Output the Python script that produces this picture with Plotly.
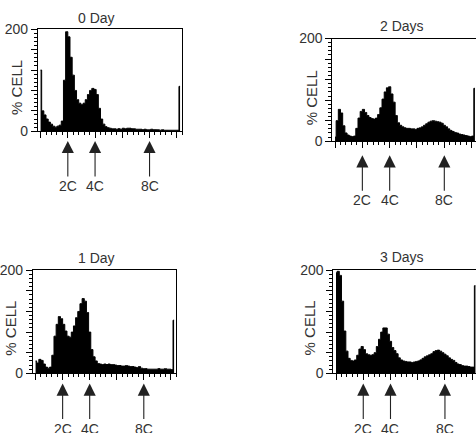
import plotly.graph_objects as go

W, H = 476, 433

# channel bins (DNA content, arbitrary units)
channels = list(range(0, 257, 4))

day0 = [120, 40, 32, 24, 18, 14, 10, 8, 10, 12,
        20, 100, 195, 185, 145, 110, 80, 62, 55, 52,
        55, 62, 72, 80, 84, 82, 72, 45, 24, 14,
        9, 7, 6, 5, 5, 4, 5, 4, 6, 5,
        6, 6, 5, 5, 4, 4, 4, 3, 4, 3,
        3, 4, 3, 3, 3, 2, 3, 2, 2, 2,
        2, 2, 2, 2, 88]

day1 = [24, 20, 27, 25, 18, 12, 10, 12, 35, 72,
        95, 110, 106, 95, 82, 72, 70, 80, 92, 108,
        120, 135, 145, 140, 118, 80, 46, 32, 24, 19,
        18, 17, 18, 17, 18, 17, 17, 16, 15, 15,
        14, 14, 15, 14, 13, 13, 12, 11, 13, 10,
        9, 9, 8, 8, 8, 8, 8, 9, 8, 8,
        9, 8, 8, 7, 103]

day2 = [8, 40, 62, 55, 30, 16, 12, 10, 9, 10,
        25, 45, 58, 62, 56, 50, 46, 44, 43, 45,
        52, 65, 82, 96, 104, 106, 92, 76, 50, 36,
        31, 28, 26, 25, 25, 24, 24, 23, 25, 26,
        28, 31, 34, 37, 39, 40, 39, 38, 37, 35,
        31, 28, 24, 21, 19, 17, 16, 14, 13, 12,
        11, 10, 9, 10, 103]

day3 = [195, 198, 190, 140, 82, 43, 29, 25, 24, 26,
        35, 47, 52, 46, 38, 36, 35, 36, 40, 52,
        66, 80, 88, 88, 76, 62, 50, 44, 38, 30,
        26, 24, 23, 22, 22, 21, 22, 23, 24, 26,
        29, 32, 34, 36, 38, 42, 44, 45, 43, 40,
        37, 34, 30, 27, 25, 21, 18, 17, 15, 14,
        14, 13, 12, 12, 170]

titles = ["0 Day", "2 Days", "1 Day", "3 Days"]
series = [day0, day2, day1, day3]
marker_pos = [50, 100, 200]
marker_lbl = ["2C", "4C", "8C"]

y_major = [0, 40, 80, 120, 160, 200]
y_major_txt = ["0", "", "", "", "", "200"]
y_minor = [v for v in range(0, 201, 8) if v not in y_major]


def px(x):
    return x / W


def py(y):
    return 1 - y / H


# panel layout in pixels: (left, right, top, bottom), x-range, y mirror
panels = [
    dict(l=36, r=181, t=22, b=128, xr=[-5, 260], mir=True,
         title=(95, 10), ylab=(15, 82), tip=138),
    dict(l=331.7, r=476, t=31.7, b=138.3, xr=[-5, 258], mir=False,
         title=(402, 19), ylab=(311, 93), tip=153),
    dict(l=31, r=175, t=272.3, b=379.3, xr=[-5, 260], mir=True,
         title=(95, 260), ylab=(9, 332), tip=390),
    dict(l=332.7, r=476, t=272.3, b=379.3, xr=[-5, 257], mir=False,
         title=(402, 259), ylab=(309, 332), tip=390),
]

FONT = "Liberation Sans, Arial, Helvetica, sans-serif"
TXT = "#333333"

fig = go.Figure()
layout = dict(width=W, height=H, margin=dict(l=0, r=0, t=0, b=0),
              paper_bgcolor="white", plot_bgcolor="white",
              showlegend=False, font=dict(family=FONT, size=14, color=TXT))
annotations = []

for i, (p, vals, ttl) in enumerate(zip(panels, series, titles)):
    n = "" if i == 0 else str(i + 1)
    fig.add_trace(go.Scatter(
        x=channels, y=vals, mode="lines", line=dict(shape="hvh", color="black", width=1),
        fill="tozeroy", fillcolor="black", xaxis="x" + n, yaxis="y" + n,
        hoverinfo="skip"))
    layout["xaxis" + n] = dict(
        domain=[px(p["l"]), min(1.0, px(p["r"]))], range=p["xr"], anchor="y" + n,
        showline=True, linecolor="black", linewidth=1, mirror=True,
        ticks="outside", tick0=0, dtick=50, ticklen=6, tickwidth=1, tickcolor="black",
        showticklabels=False, showgrid=False, zeroline=False,
        minor=dict(ticks="outside", tick0=0, dtick=10, ticklen=3, tickwidth=1,
                   tickcolor="black", showgrid=False))
    layout["yaxis" + n] = dict(
        domain=[py(p["b"]), py(p["t"])], range=[0, 200], anchor="x" + n,
        showline=True, linecolor="black", linewidth=1, mirror=p["mir"],
        ticks="outside", tickmode="array", tickvals=y_major, ticktext=y_major_txt,
        ticklen=6, tickwidth=1, tickcolor="black",
        tickfont=dict(size=14, color=TXT, family=FONT),
        showgrid=False, zeroline=False,
        minor=dict(ticks="outside", tickmode="array", tickvals=y_minor, ticklen=3,
                   tickwidth=1, tickcolor="black", showgrid=False))
    annotations.append(dict(text=ttl, x=px(p["title"][0]), y=py(p["title"][1]),
                            xref="paper", yref="paper", showarrow=False,
                            xanchor="center", yanchor="middle",
                            font=dict(size=14, color=TXT)))
    annotations.append(dict(text="% CELL", x=px(p["ylab"][0]), y=py(p["ylab"][1]),
                            xref="paper", yref="paper", showarrow=False, textangle=-90,
                            xanchor="center", yanchor="middle",
                            font=dict(size=15, color=TXT)))
    for mx, ml in zip(marker_pos, marker_lbl):
        annotations.append(dict(text=ml, x=mx, xref="x" + n, y=py(p["tip"]), yref="paper",
                                showarrow=True, ax=0, ay=45, arrowhead=2, arrowsize=2.2,
                                arrowwidth=1.1, arrowcolor="#222222", standoff=0,
                                font=dict(size=14, color=TXT)))

layout["annotations"] = annotations
fig.update_layout(**layout)
fig.write_html("out.html")
